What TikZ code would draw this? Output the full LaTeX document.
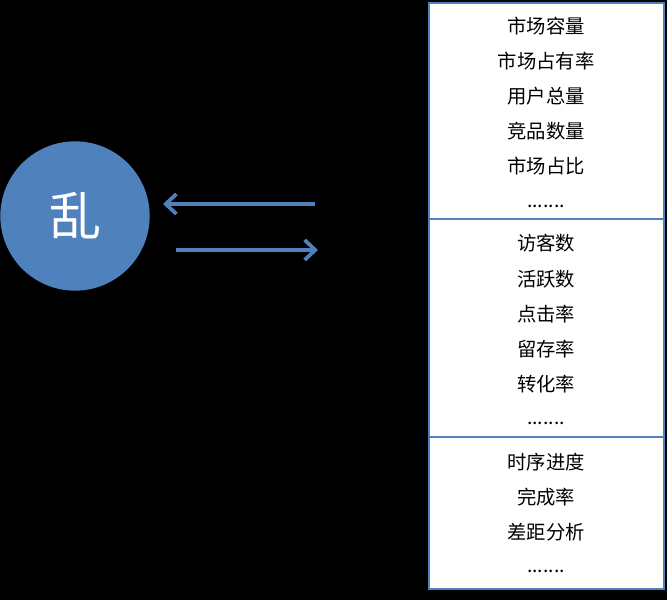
\documentclass[tikz,border=0pt]{standalone}
\usepackage{fontspec}
\usepackage{xcolor}
\usetikzlibrary{arrows.meta}
\setmainfont{Noto Sans CJK SC}

\definecolor{officeblue}{HTML}{4F81BD}

\tikzset{
	metricbox/.style={draw=officeblue,line width=1.6pt,fill=white,minimum width=176pt,inner sep=0pt,anchor=north west},
	metric/.style={font=\fontsize{14.5}{17}\selectfont,text=black,inner sep=0pt},
	flow/.style={draw=officeblue,line width=2.8pt,-{Straight Barb[length=8pt,width=15pt]}}
}

\begin{document}
\begin{tikzpicture}[x=0.75pt,y=-0.75pt]
	
	% Background and size
	\fill[black] (0,0) rectangle (667,600);
	\useasboundingbox (0,0) rectangle (667,600);
	
	% Draw nodes
	\node[circle,fill=officeblue,minimum size=112pt,inner sep=0pt,text=white,font=\fontsize{39}{44}\selectfont] (chaos) at (75,216) {乱};
	
	\node[metricbox,minimum height=162pt] (market) at (428,2) {};
	\node[metricbox,minimum height=163.5pt] (user) at (428,218) {};
	\node[metricbox,minimum height=114pt] (progress) at (428,436) {};
	
	% Market box texts
	\node[metric] (m1) at (546,26) {市场容量};
	\node[metric] (m2) at (546,61) {市场占有率};
	\node[metric] (m3) at (546,96) {用户总量};
	\node[metric] (m4) at (546,131) {竞品数量};
	\node[metric] (m5) at (546,166) {市场占比};
	\node[metric] (m6) at (546,206) {.......};
	
	% User box texts
	\node[metric] (u1) at (546,243) {访客数};
	\node[metric] (u2) at (546,279) {活跃数};
	\node[metric] (u3) at (546,314) {点击率};
	\node[metric] (u4) at (546,349) {留存率};
	\node[metric] (u5) at (546,384) {转化率};
	\node[metric] (u6) at (546,423) {.......};
	
	% Progress box texts
	\node[metric] (p1) at (546,462) {时序进度};
	\node[metric] (p2) at (546,497) {完成率};
	\node[metric] (p3) at (546,532) {差距分析};
	\node[metric] (p4) at (546,571) {.......};
	
	% Arrow ends
	\coordinate (backstart) at (315,204);
	\coordinate (backend) at (163,204);
	\coordinate (outstart) at (176,250);
	\coordinate (outend) at (318,250);
	
	% Draw arrows
	\draw[flow] (backstart) to (backend);
	\draw[flow] (outstart) to (outend);
	
\end{tikzpicture}
\end{document}
